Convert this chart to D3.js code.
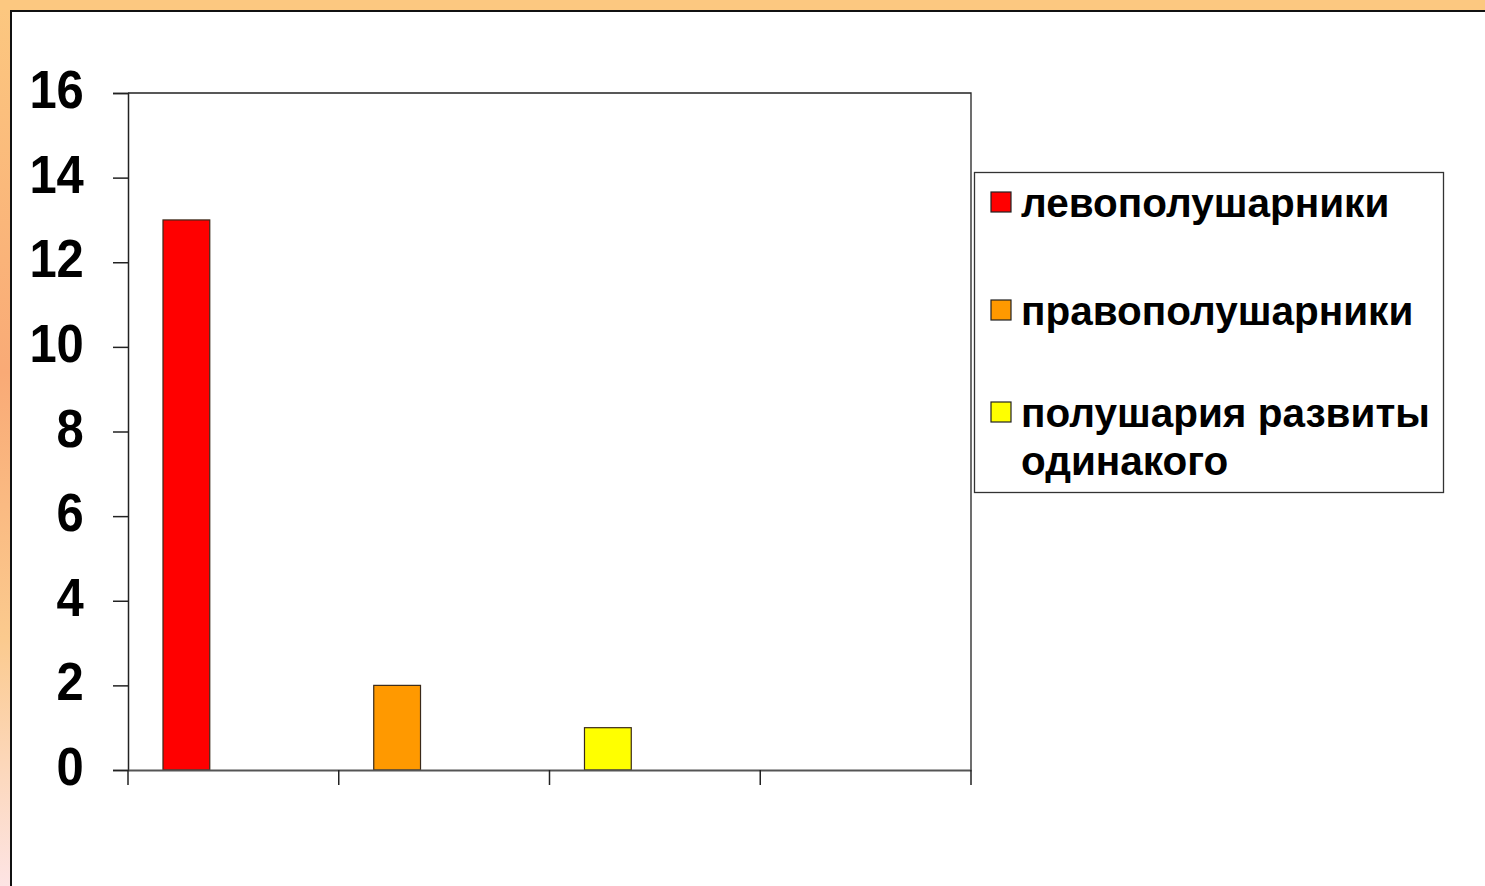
<!DOCTYPE html>
<html>
<head>
<meta charset="utf-8">
<script src="https://d3js.org/d3.v7.min.js"></script>
<style>
  html, body { margin: 0; padding: 0; background: #fff; }
  svg { display: block; }
  .tick text { font-family: "Liberation Sans", Arial, sans-serif; font-weight: bold; }
  .legend text { font-family: "Liberation Sans", Arial, sans-serif; font-weight: bold; }
</style>
</head>
<body>
<svg id="chart" width="1485" height="886"></svg>
<script>
// data
const categories = ["1", "2", "3", "4"];
const values = [13, 2, 1, null];
const barColors = ["#ff0000", "#ff9900", "#ffff00"];
const legendLabels = [["левополушарники"], ["правополушарники"], ["полушария развиты", "одинакого"]];
const yTicks = [0, 2, 4, 6, 8, 10, 12, 14, 16];

const svg = d3.select("#chart");
const width = +svg.attr("width");
const height = +svg.attr("height");

// slide frame
const defs = svg.append("defs");
const grad = defs.append("linearGradient").attr("id", "side")
  .attr("x1", 0).attr("y1", 0).attr("x2", 0).attr("y2", 1);
grad.append("stop").attr("offset", "0").attr("stop-color", "#fcc880");
grad.append("stop").attr("offset", "0.42").attr("stop-color", "#f9aa76");
grad.append("stop").attr("offset", "0.72").attr("stop-color", "#fbca8e");
grad.append("stop").attr("offset", "1").attr("stop-color", "#fde4e4");

svg.append("rect").attr("x", 0).attr("y", 0).attr("width", 10).attr("height", height).attr("fill", "url(#side)");
svg.append("rect").attr("x", 0).attr("y", 0).attr("width", width).attr("height", 10).attr("fill", "#fcc880");
svg.append("path").attr("d", `M11,${height} V11 H${width}`).attr("fill", "none").attr("stroke", "#111").attr("stroke-width", 2);

const margin = {top: 93, left: 128, right: 971, bottom: 770};

const x = d3.scaleBand().domain(categories).range([margin.left, margin.right]);
const y = d3.scaleLinear().domain([0, 16]).range([margin.bottom, margin.top]);

// plot border (top and right)
svg.append("path")
  .attr("d", `M${margin.left},${margin.top} H${margin.right} V${margin.bottom}`)
  .attr("fill", "none").attr("stroke", "#222").attr("stroke-width", 1.3);

// bars
const bw = x.bandwidth();
svg.selectAll("rect.bar").data(values.map((v, i) => ({cat: categories[i], v: v, c: barColors[i]})).filter(d => d.v != null))
  .join("rect")
  .attr("class", "bar")
  .attr("x", d => x(d.cat) + bw * 0.166)
  .attr("width", bw * 0.222)
  .attr("y", d => y(d.v))
  .attr("height", d => y(0) - y(d.v))
  .attr("fill", d => d.c)
  .attr("stroke", "#3a2a1a")
  .attr("stroke-width", 1.2);

// y axis
const yAxis = svg.append("g").attr("transform", `translate(${margin.left},0)`)
  .call(d3.axisLeft(y).tickValues(yTicks).tickSize(15).tickPadding(31));
yAxis.select(".domain").attr("stroke", "#222").attr("stroke-width", 1.5);
yAxis.selectAll(".tick line").attr("stroke", "#222").attr("stroke-width", 1.5);
yAxis.selectAll(".tick text").attr("font-size", 51).attr("fill", "#000").attr("dy", "0.27em")
  .attr("transform", "scale(0.96,1.06)");

// x axis
const xAxis = svg.append("g").attr("transform", `translate(0,${margin.bottom})`)
  .call(d3.axisBottom(x).tickSize(0).tickFormat(""));
xAxis.select(".domain").attr("stroke", "#555").attr("stroke-width", 1.8);
xAxis.selectAll(".tick").remove();
const xEdges = categories.map(c => x(c)).concat([margin.right]);
xAxis.selectAll("line.xt").data(xEdges).join("line")
  .attr("class", "xt")
  .attr("x1", d => d).attr("x2", d => d)
  .attr("y1", 0).attr("y2", 15)
  .attr("stroke", "#222").attr("stroke-width", 1.5);

// legend
const legend = svg.append("g").attr("class", "legend");
legend.append("rect").attr("x", 974.5).attr("y", 172.5).attr("width", 469).attr("height", 320)
  .attr("fill", "#fff").attr("stroke", "#333").attr("stroke-width", 1.3);
const baselines = [217, 325, 427];
legendLabels.forEach((lines, i) => {
  legend.append("rect").attr("x", 991).attr("y", baselines[i] - 25).attr("width", 20).attr("height", 20)
    .attr("fill", barColors[i]).attr("stroke", "#222").attr("stroke-width", 1.2);
  const t = legend.append("text").attr("x", 1021).attr("y", baselines[i]).attr("font-size", 40.5).attr("fill", "#000");
  lines.forEach((l, j) => {
    t.append("tspan").attr("x", 1021).attr("dy", j === 0 ? 0 : 48).text(l);
  });
});
</script>
</body>
</html>
